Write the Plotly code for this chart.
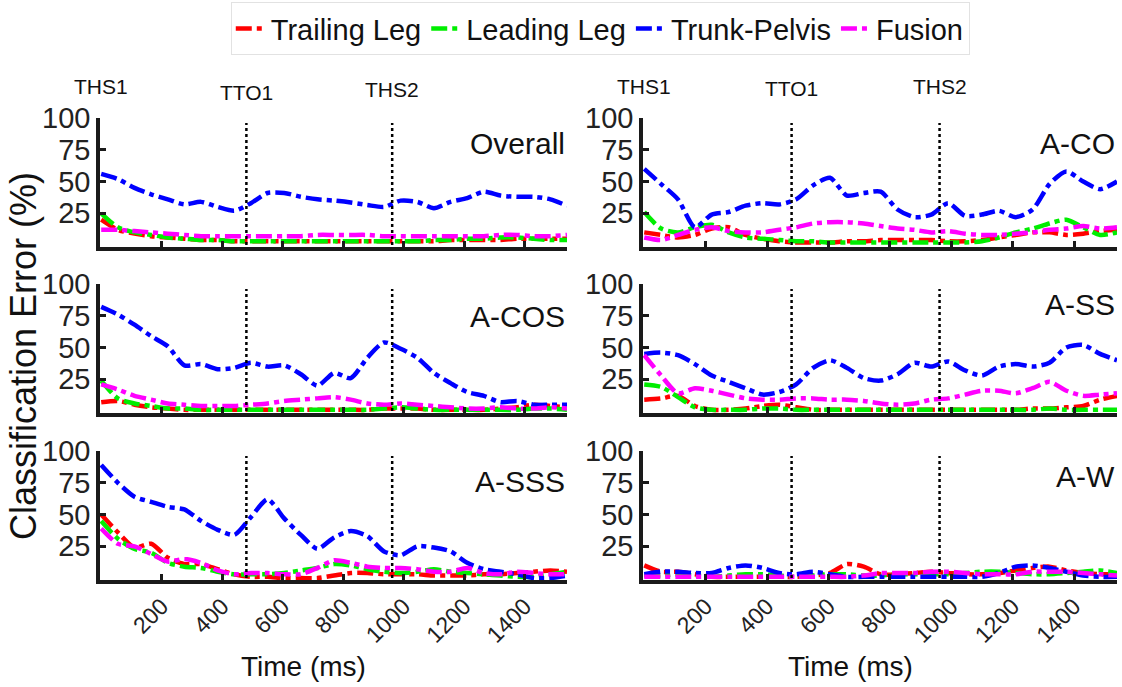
import plotly.graph_objects as go

# ---------------- data ----------------
T = [0, 55, 110, 165, 220, 275, 330, 385, 440, 495, 550, 605, 660, 715, 770,
     825, 880, 935, 990, 1045, 1100, 1155, 1210, 1265, 1320, 1375, 1430, 1485, 1540]

series_names = ["Trailing Leg", "Leading Leg", "Trunk-Pelvis", "Fusion"]
series_colors = ["#ff0000", "#00ee00", "#0000ff", "#ff00ff"]

panel_names = ["Overall", "A-CO", "A-COS", "A-SS", "A-SSS", "A-W"]

overall_trailing = [20, 12, 9, 7, 6, 5, 4, 4, 3, 3, 3, 3, 3, 3, 3, 3, 3, 3, 3, 3, 3, 4, 4, 4, 4, 5, 5, 5, 5]
overall_leading = [25, 14, 10, 8, 6, 5, 4, 4, 3, 3, 3, 3, 3, 3, 3, 3, 3, 3, 3, 3, 4, 4, 5, 5, 6, 6, 5, 4, 4]
overall_trunk = [56, 52, 45, 40, 36, 32, 34, 30, 27, 33, 41, 41, 38, 36, 35, 33.5, 31.5, 30, 35, 34, 29, 34, 37, 42, 39, 38, 38, 36, 31]
overall_fusion = [12, 12, 11, 10, 9, 8, 7, 7, 7, 7, 7, 7, 7, 8, 8, 8, 8, 7, 7, 7, 7, 7, 7, 7, 8, 8, 7, 7, 8]

aco_trailing = [10, 8, 6, 8, 13, 14, 8, 5, 3, 2, 2, 2, 3, 3, 4, 4, 4, 4, 3, 3, 4, 6, 8, 10, 10, 8, 9, 11, 12]
aco_leading = [26, 13, 10, 14, 16, 10, 6, 5, 4, 3, 3, 2, 2, 2, 2, 2, 2, 2, 2, 2, 3, 6, 10, 13, 17, 20, 14, 8, 10]
aco_trunk = [60, 48, 36, 14, 24, 26, 31, 33, 32, 36, 47, 53, 39, 41, 42, 28, 22, 24, 33, 23, 24, 27, 22, 28, 48, 58, 50, 44, 50]
aco_fusion = [6, 4, 8, 12, 14, 11, 10, 10, 12, 14, 17, 18, 18, 17, 15, 13, 12, 10, 11, 9, 8, 8, 9, 10, 12, 13, 15, 13, 14]

acos_trailing = [7, 8, 5, 3, 2, 1, 1, 1, 1, 1, 1, 1, 1, 1, 1, 1, 1, 2, 2, 2, 1, 1, 1, 1, 2, 3, 5, 4, 3]
acos_leading = [24, 10, 6, 4, 2, 2, 1, 1, 1, 1, 1, 1, 1, 1, 1, 1, 1, 2, 3, 2, 1, 1, 1, 1, 1, 1, 2, 2, 1]
acos_trunk = [82, 76, 68, 59, 51, 36, 37, 33, 34, 38, 35, 36, 29, 20, 30, 26, 42, 54, 49, 42, 30, 22, 15, 12, 7, 8, 5, 5, 5]
acos_fusion = [21, 17, 12, 9, 6, 5, 4, 4, 4, 5, 6, 8, 9, 10, 11, 9, 6, 5, 6, 5, 4, 3, 2, 2, 3, 2, 2, 3, 2]

ass_trailing = [9, 10, 12, 4, 1, 1, 2, 4, 5, 3, 1, 1, 1, 1, 1, 1, 1, 1, 1, 1, 1, 1, 1, 2, 2, 3, 4, 9, 12]
ass_leading = [21, 19, 11, 3, 1, 1, 1, 2, 2, 1, 1, 1, 1, 1, 1, 1, 1, 1, 1, 1, 1, 1, 1, 1, 2, 1, 1, 1, 1]
ass_trunk = [45, 46, 44, 37, 28, 23, 18, 13, 15, 21, 34, 40, 34, 26, 24, 29, 38, 35, 39, 32, 28, 35, 37, 35, 38, 50, 52, 45, 40]
ass_fusion = [44, 28, 14, 18, 16, 13, 10, 9, 9, 10, 10, 9, 9, 8, 6, 5, 6, 9, 10, 13, 16, 16, 14, 18, 23, 16, 12, 13, 14]

asss_trailing = [50, 36, 24, 27, 16, 11, 11, 7, 3, 1, 1, 0, 0, 0, 2, 4, 4, 3, 3, 3, 2, 2, 2, 3, 3, 4, 5, 6, 5]
asss_leading = [45, 31, 23, 20, 12, 9, 8, 5, 3, 3, 3, 4, 6, 8, 11, 10, 7, 5, 4, 5, 7, 5, 4, 3, 2, 1, 1, 3, 5]
asss_trunk = [89, 75, 64, 60, 56, 54, 45, 38, 34, 48, 62, 47, 34, 23, 32, 37, 33, 21, 18, 25, 24, 21, 12, 7, 5, 3, 0, 0, 2]
asss_fusion = [39, 27, 25, 19, 13, 15, 12, 6, 3, 4, 4, 3, 3, 8, 14, 12, 9, 8, 8, 7, 5, 5, 8, 4, 3, 5, 4, 3, 3]

aw_trailing = [10, 5, 5, 3, 1, 1, 1, 1, 1, 1, 2, 4, 11, 9, 3, 3, 4, 5, 4, 3, 3, 4, 6, 8, 9, 6, 4, 3, 3]
aw_leading = [2, 2, 3, 2, 1, 2, 3, 3, 2, 1, 2, 3, 3, 2, 2, 3, 3, 3, 3, 4, 5, 5, 4, 3, 3, 4, 5, 6, 4]
aw_trunk = [3, 5, 5, 4, 4, 8, 10, 8, 4, 3, 5, 3, 1, 1, 1, 1, 1, 1, 1, 1, 1, 4, 9, 10, 8, 5, 2, 1, 1]
aw_fusion = [1, 1, 1, 1, 1, 1, 1, 1, 1, 1, 1, 1, 1, 2, 4, 4, 4, 5, 5, 4, 3, 3, 3, 5, 5, 5, 4, 3, 2]

panel_data = [
    [overall_trailing, overall_leading, overall_trunk, overall_fusion],
    [aco_trailing, aco_leading, aco_trunk, aco_fusion],
    [acos_trailing, acos_leading, acos_trunk, acos_fusion],
    [ass_trailing, ass_leading, ass_trunk, ass_fusion],
    [asss_trailing, asss_leading, asss_trunk, asss_fusion],
    [aw_trailing, aw_leading, aw_trunk, aw_fusion],
]

event_names = ["THS1", "TTO1", "THS2"]
event_times = [0, 480, 962]

x_tickvals = [200, 400, 600, 800, 1000, 1200, 1400]
y_tickvals = [25, 50, 75, 100]

# ---------------- layout geometry ----------------
W, H = 1122, 687
col_px = [(100, 567), (643, 1117)]
row_px = [(118, 247), (284, 413), (451, 580)]

FONT = "Liberation Sans, Arial, sans-serif"
DASH = "16px,5px,5px,5px"

fig = go.Figure()
layout = dict(
    width=W, height=H,
    margin=dict(l=0, r=0, t=0, b=0, autoexpand=False),
    paper_bgcolor="white", plot_bgcolor="white",
    font=dict(family=FONT, color="#1a1a1a"),
    showlegend=True,
    legend=dict(orientation="h", x=0.535, xanchor="center", y=0.997, yanchor="top",
                bordercolor="#e2e2e2", borderwidth=1, bgcolor="white",
                font=dict(size=29, family=FONT, color="#111"),
                itemwidth=30, tracegroupgap=0, itemclick=False),
)
shapes = []
annotations = []

for p, name in enumerate(panel_names):
    r, c = divmod(p, 2)
    idx = p + 1
    xa = "xaxis" if idx == 1 else f"xaxis{idx}"
    ya = "yaxis" if idx == 1 else f"yaxis{idx}"
    xr = "x" if idx == 1 else f"x{idx}"
    yr = "y" if idx == 1 else f"y{idx}"
    x0, x1 = col_px[c]
    y0, y1 = row_px[r]
    layout[xa] = dict(
        domain=[x0 / W, x1 / W], anchor=yr, range=[-4, 1540],
        showline=True, linecolor="#1a1a1a", linewidth=3.5,
        ticks="inside", ticklen=6, tickwidth=2.5, tickcolor="#1a1a1a",
        tickvals=x_tickvals, showticklabels=(r == 2), tickangle=-45,
        tickfont=dict(size=23, family=FONT, color="#222"),
        showgrid=False, zeroline=False, fixedrange=True,
    )
    layout[ya] = dict(
        domain=[1 - y1 / H, 1 - y0 / H], anchor=xr, range=[-1.5, 100],
        showline=True, linecolor="#1a1a1a", linewidth=3.5,
        ticks="inside", ticklen=6, tickwidth=2.5, tickcolor="#1a1a1a",
        tickvals=y_tickvals, tickfont=dict(size=29, family=FONT, color="#222"),
        showgrid=False, zeroline=False, fixedrange=True,
    )
    for s in range(4):
        fig.add_trace(go.Scatter(
            x=T, y=panel_data[p][s], xaxis=xr, yaxis=yr, mode="lines",
            name=series_names[s], legendgroup=series_names[s], showlegend=(p == 0),
            line=dict(color=series_colors[s], width=4.5, dash=DASH,
                      shape="spline", smoothing=0.7),
        ))
    for et in event_times[1:]:
        shapes.append(dict(type="line", xref=xr, yref=yr, x0=et, x1=et, y0=0, y1=96,
                           line=dict(color="black", width=2.5, dash="dot")))
    # panel title
    title_y = {0: 143, 1: 143, 2: 316, 3: 304, 4: 481, 5: 477}[p]
    annotations.append(dict(text=name, xref="paper", yref="paper", x=x1 / W,
                            y=1 - title_y / H, xanchor="right", yanchor="middle",
                            showarrow=False, font=dict(size=30, family=FONT, color="#111")))
    if r == 0:
        ev_y = [86, 93, 90] if c == 0 else [86, 88, 86]
        for k, (en, et) in enumerate(zip(event_names, event_times)):
            annotations.append(dict(text=en, xref=xr, yref="paper", x=et,
                                    y=1 - ev_y[k] / H, xanchor="center", yanchor="middle",
                                    showarrow=False,
                                    font=dict(size=21, family=FONT, color="#111")))
    if r == 2:
        annotations.append(dict(text="Time (ms)", xref="paper", yref="paper",
                                x=((x0 + x1) / 2 - 30) / W, y=1 - 666 / H,
                                xanchor="center", yanchor="middle", showarrow=False,
                                font=dict(size=28, family=FONT, color="#111")))

annotations.append(dict(text="Classification Error (%)", xref="paper", yref="paper",
                        x=24 / W, y=1 - 356 / H, textangle=-90, xanchor="center",
                        yanchor="middle", showarrow=False,
                        font=dict(size=36, family=FONT, color="#111")))

layout["shapes"] = shapes
layout["annotations"] = annotations
fig.update_layout(**layout)
fig.write_html("out.html")
